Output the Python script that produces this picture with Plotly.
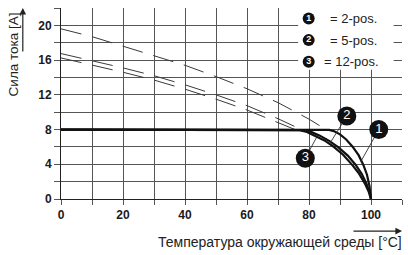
import plotly.graph_objects as go

# ---- data ----
# dashed reference curves (temperature °C, current A)
dash1_t = [0, 10, 20, 30, 40, 50, 60, 70, 80, 85.5]
dash1_i = [19.6, 18.7, 17.6, 16.5, 15.4, 14.1, 12.7, 11.1, 9.2, 8.0]
dash2_t = [0, 10, 20, 30, 40, 50, 60, 70, 77.5]
dash2_i = [16.75, 15.95, 15.1, 14.2, 13.15, 12.0, 10.75, 9.25, 8.0]
dash3_t = [0, 10, 20, 30, 40, 50, 60, 70, 75.5]
dash3_i = [16.25, 15.45, 14.6, 13.7, 12.65, 11.5, 10.25, 8.8, 8.0]

# derating curves
c1_t = [0, 85, 86.5, 88, 90, 92, 94, 96, 97.5, 98.7, 99.5, 100]
c1_i = [8, 8, 7.96, 7.82, 7.45, 6.85, 6.05, 5.05, 3.95, 2.8, 1.5, 0]
c2_t = [0, 77.5, 79, 80.5, 83.5, 86.5, 89.5, 92.5, 95, 97, 98.5, 99.5, 100]
c2_i = [8, 8, 7.93, 7.76, 7.3, 6.7, 5.95, 5.0, 3.95, 2.9, 1.8, 0.8, 0]
c3_t = [0, 75.5, 77, 79, 82, 85, 88, 91, 94, 96, 98, 99.3, 100]
c3_i = [8, 8, 7.94, 7.76, 7.3, 6.75, 6.0, 5.1, 3.9, 3.0, 1.8, 0.8, 0]

curve_ids = ["1", "2", "3"]
legend_text = ["= 2-pos.", "= 5-pos.", "= 12-pos."]
x_tickvals = [0, 10, 20, 30, 40, 50, 60, 70, 80, 90, 100, 110]
x_ticktext = ["0", "", "20", "", "40", "", "60", "", "80", "", "100", ""]
y_tickvals = [0, 2, 4, 6, 8, 10, 12, 14, 16, 18, 20, 22]
y_ticktext = ["0", "", "4", "", "8", "", "12", "", "16", "", "20", ""]

x_title = "Температура окружающей среды [°C]"
y_title = "Сила тока [A]"

FONT = "Liberation Sans, Arial, sans-serif"
GRID = "#555555"

fig = go.Figure()

dash_style = dict(color="#3a3a3a", width=1, dash="21px,11px")
for t, i in [(dash1_t, dash1_i), (dash2_t, dash2_i), (dash3_t, dash3_i)]:
    fig.add_trace(go.Scatter(x=t, y=i, mode="lines", line=dash_style,
                             hoverinfo="skip", showlegend=False))

for t, i in [(c3_t, c3_i), (c2_t, c2_i), (c1_t, c1_i)]:
    fig.add_trace(go.Scatter(x=t, y=i, mode="lines",
                             line=dict(color="#111", width=2.2),
                             hoverinfo="skip", showlegend=False))

# leader lines and numbered markers on the chart
label_pos = {"1": (102.5, 8.0), "2": (92.2, 9.55), "3": (78.8, 4.7)}
leader_end = {"1": (96.7, 4.3), "2": (86.9, 6.5), "3": (82.6, 7.2)}
for k in curve_ids:
    (x0, y0), (x1, y1) = label_pos[k], leader_end[k]
    fig.add_trace(go.Scatter(x=[x0, x1], y=[y0, y1], mode="lines",
                             line=dict(color="#333", width=0.9),
                             hoverinfo="skip", showlegend=False, cliponaxis=False))
fig.add_trace(go.Scatter(
    x=[label_pos[k][0] for k in curve_ids], y=[label_pos[k][1] for k in curve_ids],
    mode="markers+text", text=curve_ids, textposition="middle center",
    marker=dict(size=19, color="#111"),
    textfont=dict(color="white", size=13, family=FONT),
    hoverinfo="skip", showlegend=False, cliponaxis=False))

# legend box
fig.add_shape(type="rect", xref="x", yref="y", x0=76.5, x1=107.3, y0=14.9, y1=22,
              fillcolor="white", line=dict(width=0), layer="between")
leg_y = [20.8, 18.3, 15.8]
fig.add_trace(go.Scatter(
    x=[79.9] * 3, y=leg_y, mode="markers+text", text=curve_ids,
    textposition="middle center", marker=dict(size=12, color="#111"),
    textfont=dict(color="white", size=9, family=FONT, weight="bold"),
    hoverinfo="skip", showlegend=False))
leg_x = [86.2, 86.2, 84.2]
for xv, yv, txt in zip(leg_x, leg_y, legend_text):
    fig.add_annotation(x=xv, y=yv, text=txt, showarrow=False, xanchor="left",
                       yanchor="middle", font=dict(size=13, family=FONT, color="#222"))

# axis titles and arrows
fig.add_annotation(xref="paper", yref="paper", x=1.006, y=-0.225, text=x_title,
                   showarrow=False, xanchor="right", yanchor="middle",
                   font=dict(size=14, family=FONT, color="#222"))
fig.add_annotation(xref="paper", yref="paper", x=1.0, y=-0.168, ax=-50, ay=0,
                   text="", showarrow=True, arrowhead=2, arrowsize=1.1,
                   arrowwidth=1.2, arrowcolor="#222")
fig.add_annotation(xref="paper", yref="paper", x=-0.139, y=0.755, text=y_title,
                   textangle=-90, showarrow=False, xanchor="center", yanchor="middle",
                   font=dict(size=13.5, family=FONT, color="#222"))
fig.add_annotation(xref="paper", yref="paper", x=-0.112, y=1.0, ax=0, ay=45,
                   text="", showarrow=True, arrowhead=2, arrowsize=1.1,
                   arrowwidth=1.2, arrowcolor="#222")

fig.update_xaxes(range=[0, 110], tickmode="array", tickvals=x_tickvals, ticktext=x_ticktext,
                 showgrid=True, gridcolor=GRID, gridwidth=1,
                 ticks="outside", ticklen=5, tickcolor=GRID,
                 showline=True, linecolor="#222", linewidth=1, zeroline=False,
                 tickfont=dict(size=12, family=FONT, color="#1a1a1a", weight="bold"),
                 fixedrange=True)
fig.update_yaxes(range=[0, 22], tickmode="array", tickvals=y_tickvals, ticktext=y_ticktext,
                 showgrid=True, gridcolor=GRID, gridwidth=1,
                 ticks="outside", ticklen=6, tickcolor=GRID,
                 showline=True, linecolor="#222", linewidth=1, zeroline=False,
                 tickfont=dict(size=12, family=FONT, color="#1a1a1a", weight="bold"),
                 fixedrange=True)

fig.update_layout(width=408, height=255, margin=dict(l=61, r=6, t=8, b=56),
                  paper_bgcolor="white", plot_bgcolor="white", showlegend=False)

fig.write_html("out.html", config={"displayModeBar": False})
